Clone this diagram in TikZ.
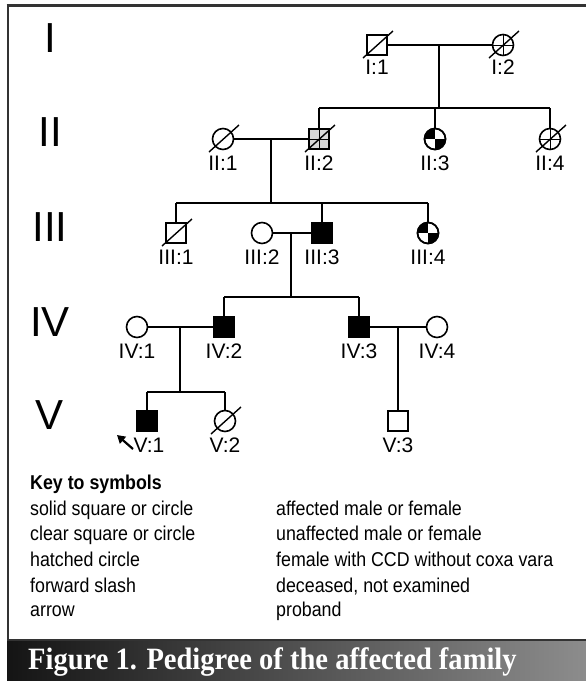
\documentclass[tikz,border=0pt]{standalone}
\usepackage{fontspec}
\setmainfont{Liberation Sans}
\newfontfamily\keyfont[FakeStretch=0.89]{Liberation Sans}
\newfontfamily\capfont[FakeStretch=0.92]{Liberation Serif}
\usetikzlibrary{arrows.meta}
\tikzset{
  sq/.style={draw, rectangle, line width=1.6pt, minimum size=20pt, inner sep=0pt},
  ci/.style={draw, circle, line width=1.6pt, minimum size=21pt, inner sep=0pt},
  aff/.style={fill=black},
  conn/.style={line width=1.4pt},
  slashline/.style={line width=1.4pt},
  crossline/.style={line width=0.9pt},
  lab/.style={font=\fontsize{21}{24}\selectfont, inner sep=0pt},
  genlab/.style={font=\fontsize{42}{46}\selectfont, inner sep=0pt},
  keytxt/.style={font=\keyfont\fontsize{20}{24}\selectfont, anchor=base west, inner sep=0pt},
  frameline/.style={draw=black!80},
}
\newcommand\dslash[1]{\draw[slashline] ([shift={(-14,13)}]#1.center) -- ([shift={(16,-14)}]#1.center);}
\newcommand\pluscross[1]{\draw[crossline] (#1.north) -- (#1.south) (#1.west) -- (#1.east);}
\newcommand\quarters[1]{\begin{scope}\path[clip] (#1.center) circle[radius=10.5];
  \fill (#1.center) rectangle ++(-11,-11); \fill (#1.center) rectangle ++(11,11);\end{scope}}
\begin{document}
\begin{tikzpicture}[x=1pt, y=-1pt]
\useasboundingbox (0,0) rectangle (586,681);
% frame
\draw[frameline, line width=3pt] (6.5,5) -- (586,5);
\draw[frameline, line width=2.5pt] (8,5) -- (8,681);
\shade[left color=black!92, right color=black!45] (7,640) rectangle (586,681);
\draw[frameline, line width=2pt] (7,640) -- (586,640);
\node[anchor=base west, inner sep=0pt, text=white, font=\capfont\bfseries\fontsize{31}{34}\selectfont] (cap) at (28,669) {Figure 1. Pedigree of the affected family};

% generation labels
\node[genlab] (gI) at (50,38) {I};
\node[genlab] (gII) at (50,132) {II};
\node[genlab] (gIII) at (50,227) {III};
\node[genlab] (gIV) at (50,322) {IV};
\node[genlab] (gV) at (50,415) {V};

% generation I
\node[sq] (I1) at (377,45) {};
\node[ci] (I2) at (503,45) {};
\pluscross{I2}
\dslash{I1} \dslash{I2}
\node[lab] (lI1) at (377,67) {I:1};
\node[lab] (lI2) at (503,67) {I:2};
\coordinate (mI) at (439,45);
\coordinate (sI) at (439,108);
\draw[conn] (I1) -- (I2);
\draw[conn] (mI) -- (sI);

% generation II
\node[ci] (II1) at (223,139) {};
\node[sq, fill=black!15] (II2) at (319,139) {};
\node[ci] (II3) at (435,139) {};
\node[ci] (II4) at (550,139) {};
\pluscross{II2} \pluscross{II4}
\quarters{II3}
\node[ci] at (II3) {};
\dslash{II1} \dslash{II2} \dslash{II4}
\node[lab] (lII1) at (223,163) {II:1};
\node[lab] (lII2) at (319,163) {II:2};
\node[lab] (lII3) at (435,163) {II:3};
\node[lab] (lII4) at (550,163) {II:4};
\coordinate (sII2) at (319,108);
\coordinate (sII3) at (435,108);
\coordinate (sII4) at (550,108);
\draw[conn] (sII2) -- (sII4);
\draw[conn] (sII2) -- (II2);
\draw[conn] (sII3) -- (II3);
\draw[conn] (sII4) -- (II4);
\draw[conn] (II1) -- (II2);
\coordinate (mII) at (271,139);
\coordinate (sII) at (271,203);
\draw[conn] (mII) -- (sII);

% generation III
\node[sq] (III1) at (176,233) {};
\node[ci] (III2) at (262,233) {};
\node[sq, aff] (III3) at (322,233) {};
\node[ci] (III4) at (428,233) {};
\quarters{III4}
\node[ci] at (III4) {};
\dslash{III1}
\node[lab] (lIII1) at (176,257) {III:1};
\node[lab] (lIII2) at (262,257) {III:2};
\node[lab] (lIII3) at (322,257) {III:3};
\node[lab] (lIII4) at (428,257) {III:4};
\coordinate (sIII1) at (176,203);
\coordinate (sIII3) at (322,203);
\coordinate (sIII4) at (428,203);
\draw[conn] (sIII1) -- (sIII4);
\draw[conn] (sIII1) -- (III1);
\draw[conn] (sIII3) -- (III3);
\draw[conn] (sIII4) -- (III4);
\draw[conn] (III2) -- (III3);
\coordinate (mIII) at (291,233);
\coordinate (sIII) at (291,297);
\draw[conn] (mIII) -- (sIII);

% generation IV
\node[ci] (IV1) at (137,327) {};
\node[sq, aff] (IV2) at (224,327) {};
\node[sq, aff] (IV3) at (359,327) {};
\node[ci] (IV4) at (437,327) {};
\node[lab] (lIV1) at (137,351) {IV:1};
\node[lab] (lIV2) at (224,351) {IV:2};
\node[lab] (lIV3) at (359,351) {IV:3};
\node[lab] (lIV4) at (437,351) {IV:4};
\coordinate (sIV2) at (224,297);
\coordinate (sIV3) at (359,297);
\draw[conn] (sIV2) -- (sIV3);
\draw[conn] (sIV2) -- (IV2);
\draw[conn] (sIV3) -- (IV3);
\draw[conn] (IV1) -- (IV2);
\draw[conn] (IV3) -- (IV4);
\coordinate (mIVa) at (180,327);
\coordinate (sIVa) at (180,392);
\draw[conn] (mIVa) -- (sIVa);
\coordinate (mIVb) at (398,327);

% generation V
\node[sq, aff] (V1) at (147,421) {};
\node[ci] (V2) at (225,421) {};
\node[sq] (V3) at (398,421) {};
\dslash{V2}
\node[lab] (lV1) at (149,445) {V:1};
\node[lab] (lV2) at (225,445) {V:2};
\node[lab] (lV3) at (398,445) {V:3};
\coordinate (sV1) at (147,392);
\coordinate (sV2) at (225,392);
\draw[conn] (sV1) -- (sV2);
\draw[conn] (sV1) -- (V1);
\draw[conn] (sV2) -- (V2);
\draw[conn] (mIVb) -- (V3);
\coordinate (arrT) at (133,449);
\coordinate (arrH) at (117,435);
\draw[line width=2.2pt, -{Triangle[length=8pt, width=9pt]}] (arrT) -- (arrH);

% key
\node[keytxt, font=\keyfont\bfseries\fontsize{20}{24}\selectfont] (key) at (30,489) {Key to symbols};
\node[keytxt] (k1) at (30,515) {solid square or circle};
\node[keytxt] (k2) at (30,540) {clear square or circle};
\node[keytxt] (k3) at (30,566) {hatched circle};
\node[keytxt] (k4) at (30,592) {forward slash};
\node[keytxt] (k5) at (30,616) {arrow};
\node[keytxt] (d1) at (276,515) {affected male or female};
\node[keytxt] (d2) at (276,540) {unaffected male or female};
\node[keytxt] (d3) at (276,566) {female with CCD without coxa vara};
\node[keytxt] (d4) at (276,592) {deceased, not examined};
\node[keytxt] (d5) at (276,616) {proband};
\end{tikzpicture}
\end{document}
